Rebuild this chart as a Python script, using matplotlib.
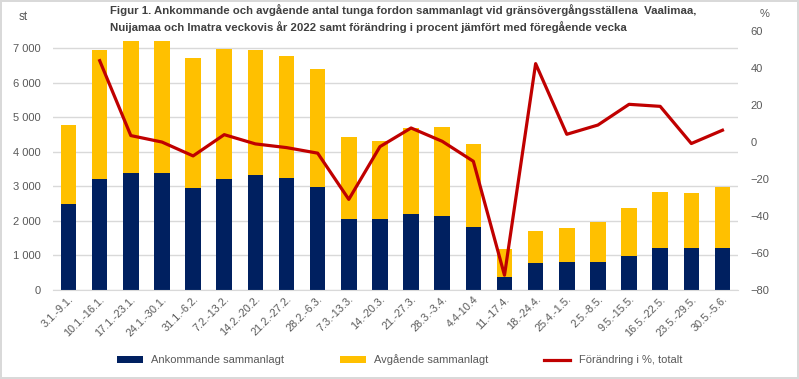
import matplotlib.pyplot as plt
import numpy as np

plt.rcParams['font.family'] = ['Liberation Sans', 'DejaVu Sans']

weeks = ['3.1.-9.1.', '10.1.-16.1.', '17.1.-23.1.', '24.1.-30.1.', '31.1.-6.2.',
         '7.2.-13.2.', '14.2.-20.2.', '21.2.-27.2.', '28.2.-6.3.', '7.3.-13.3.',
         '14.-20.3.', '21.-27.3.', '28.3.-3.4.', '4.4-10.4', '11.-17.4.',
         '18.-24.4.', '25.4.-1.5.', '2.5.-8.5.', '9.5.-15.5.', '16.5.-22.5.',
         '23.5.-29.5.', '30.5.-5.6.']
arriving = [2490, 3220, 3390, 3390, 2950, 3220, 3330, 3250, 2990, 2060,
            2060, 2200, 2150, 1830, 380, 790, 820, 820, 990, 1220, 1220, 1220]
total = [4780, 6950, 7200, 7200, 6720, 6980, 6950, 6780, 6400, 4430,
         4310, 4700, 4720, 4230, 1190, 1710, 1800, 1970, 2380, 2840, 2810, 2990]
departing = [t - a for t, a in zip(total, arriving)]
change = [np.nan, 44, 3.5, 0, -7.5, 4, -1, -3, -6, -31, -2.5,
          7.6, 0.4, -10.4, -72, 42.4, 4.2, 9.2, 20.4, 19.3, -0.8, 6.4]

navy = '#002060'
yellow = '#FFC000'
red = '#C00000'
grey = '#595959'

fig = plt.figure(figsize=(7.99, 3.79), dpi=100)
fig.patch.set_edgecolor('#D9D9D9')
fig.patch.set_linewidth(1.5)
ax = fig.add_axes([0.0663, 0.2348, 0.8574, 0.6832])

x = np.arange(len(weeks))
b1 = ax.bar(x, arriving, width=0.5, color=navy, label='Ankommande sammanlagt', zorder=2)
b2 = ax.bar(x, departing, width=0.5, bottom=arriving, color=yellow,
            label='Avgående sammanlagt', zorder=2)
ax.set_xlim(-0.5, len(weeks) - 0.5)
ax.set_ylim(0, 7490)
ax.set_yticks(range(0, 8000, 1000))
ax.set_yticklabels([f'{v:,}'.replace(',', ' ') for v in range(0, 8000, 1000)])
ax.yaxis.grid(True, color='#D9D9D9', linewidth=1, zorder=0)
ax.set_axisbelow(True)
for s in ['top', 'right', 'left']:
    ax.spines[s].set_visible(False)
ax.spines['bottom'].set_color('#D9D9D9')
ax.tick_params(axis='y', length=0, labelsize=8, labelcolor=grey, pad=9)
ax.tick_params(axis='x', length=0, labelsize=7.8, labelcolor=grey, pad=3)
ax.set_xticks(x)
ax.set_xticklabels(weeks, rotation=45, ha='right', rotation_mode='anchor')

ax2 = ax.twinx()
ln, = ax2.plot(x, change, color=red, linewidth=2.3, label='Förändring i %, totalt', zorder=3)
ax2.set_ylim(-80, 60)
ax2.set_yticks(range(-80, 61, 20))
for s in ax2.spines.values():
    s.set_visible(False)
ax2.tick_params(axis='y', length=0, labelsize=8, labelcolor=grey, pad=9)

fig.text(0.029, 0.955, 'st', fontsize=8.5, color=grey, ha='center', va='center')
fig.text(0.957, 0.962, '%', fontsize=8, color=grey, ha='center', va='center')
fig.text(0.138, 0.988, 'Figur 1. Ankommande och avgående antal tunga fordon sammanlagt vid gränsövergångsställena  Vaalimaa,\n'
         'Nuijamaa och Imatra veckovis år 2022 samt förändring i procent jämfört med föregående vecka',
         fontsize=8.2, fontweight='bold', color='#404040', ha='left', va='top', linespacing=1.45)

fig.legend(handles=[b1, b2, ln], loc='center', bbox_to_anchor=(0.5, 0.05), ncol=3,
           frameon=False, fontsize=8, labelcolor=grey, handlelength=2.3,
           handleheight=0.6, columnspacing=5.0)

fig.savefig('out.png', dpi=100)
